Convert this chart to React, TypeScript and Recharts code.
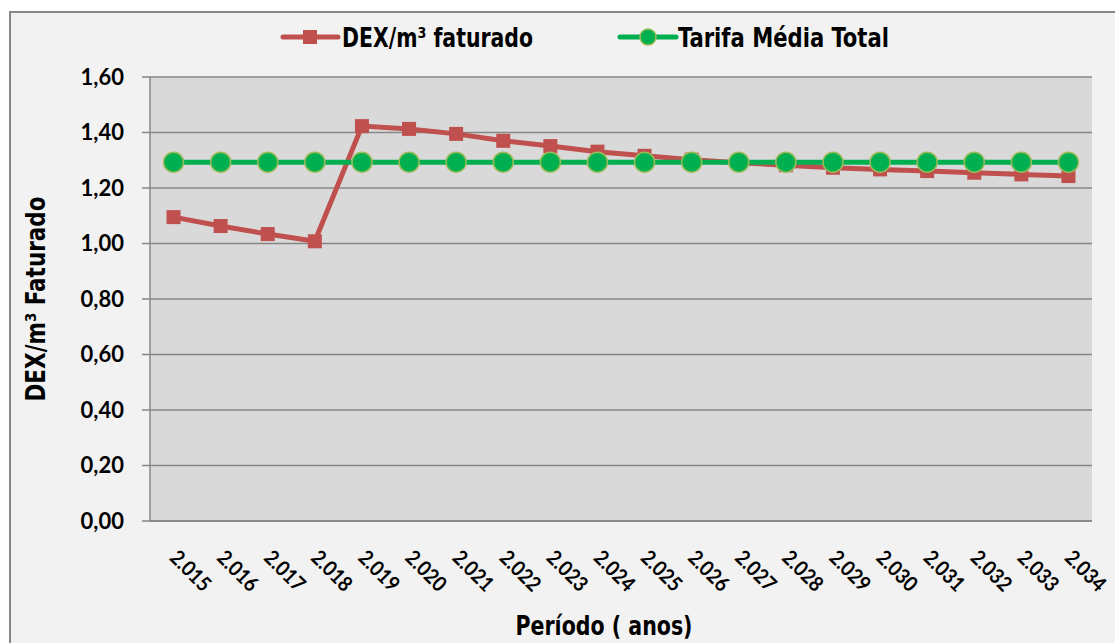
import { LineChart, Line, CartesianGrid, XAxis, YAxis, Legend, Label } from 'recharts';

const years = ['2.015', '2.016', '2.017', '2.018', '2.019', '2.020', '2.021', '2.022', '2.023', '2.024',
  '2.025', '2.026', '2.027', '2.028', '2.029', '2.030', '2.031', '2.032', '2.033', '2.034'];
const dexFaturado = [1.095, 1.063, 1.034, 1.008, 1.423, 1.413, 1.395, 1.37, 1.351, 1.331,
  1.316, 1.302, 1.291, 1.282, 1.273, 1.267, 1.261, 1.255, 1.249, 1.243];
const tarifaMedia = [1.293, 1.293, 1.293, 1.293, 1.293, 1.293, 1.293, 1.293, 1.293, 1.293,
  1.293, 1.293, 1.293, 1.293, 1.293, 1.293, 1.293, 1.293, 1.293, 1.293];
const yTicks = [0, 0.2, 0.4, 0.6, 0.8, 1.0, 1.2, 1.4, 1.6];

const data = years.map((year, i) => ({ x: i + 0.5, year, dex: dexFaturado[i], tarifa: tarifaMedia[i] }));
const centerTicks = data.map(d => d.x);
const edgeTicks = [...years.map((_, i) => i), years.length];

const RED = '#c0504d';
const GREEN = '#00b050';
const AXIS = '#868686';
const NARROW = '"Liberation Sans Narrow", "Arial Narrow", "DejaVu Sans Condensed", sans-serif';
const TICKFONT = 'Lato, "Liberation Sans", sans-serif';

const SquareDot = (props: any) => {
  const { cx, cy } = props;
  if (cx == null || cy == null) return null;
  return <rect x={cx - 7} y={cy - 7} width={14} height={14} fill={RED} />;
};

const YearTick = (props: any) => {
  const { x, y, payload } = props;
  const label = years[Math.floor(payload.value)];
  const tx = x - 5;
  const ty = y + 30;
  return (
    <text x={tx} y={ty} transform={`rotate(45, ${tx}, ${ty})`} textAnchor="start" textLength={48} lengthAdjust="spacingAndGlyphs"
      fontFamily={TICKFONT} fontWeight={700} fontSize={21} fill="#000">{label}</text>
  );
};

const titleStyle = { fontFamily: NARROW, fontWeight: 700, fontSize: 27, fill: '#000' };

const LegendContent = () => (
  <svg width={1110} height={50} style={{ display: 'block' }}>
    <line x1={272} y1={24} x2={327} y2={24} stroke={RED} strokeWidth={5} strokeLinecap="round" />
    <rect x={292} y={17} width={14} height={14} fill={RED} />
    <text x={331} y={34} textLength={191} lengthAdjust="spacingAndGlyphs" {...titleStyle}>DEX/m³ faturado</text>
    <line x1={609} y1={24} x2={665} y2={24} stroke={GREEN} strokeWidth={5} strokeLinecap="round" />
    <circle cx={637} cy={24} r={8} fill={GREEN} stroke="#9bbb59" strokeWidth={1.5} />
    <text x={667} y={34} textLength={211} lengthAdjust="spacingAndGlyphs" {...titleStyle}>Tarifa Média Total</text>
  </svg>
);

export default function App() {
  return (
    <div>
      <style>{'body{margin:0;overflow:hidden}'}</style>
      <div style={{ marginLeft: 9, marginTop: 11, width: 1110, height: 632, border: `2px solid ${AXIS}`, background: '#f2f2f2' }}>
        <LineChart width={1110} height={632} data={data} margin={{ top: 64, right: 29, left: 0, bottom: 0 }}>
          <CartesianGrid xAxisId="lab" vertical={false} fill="#d9d9d9" stroke={AXIS} strokeWidth={1.5} />
          <XAxis xAxisId="tk" type="number" dataKey="x" domain={[0, 20]} ticks={edgeTicks} height={0}
            axisLine={false} tickLine={{ stroke: AXIS, strokeWidth: 1.5 }} tickSize={8} tick={() => <g />} />
          <XAxis xAxisId="lab" type="number" dataKey="x" domain={[0, 20]} ticks={centerTicks} height={124}
            axisLine={{ stroke: AXIS, strokeWidth: 1.5 }} tickLine={false} tick={<YearTick />} interval={0}>
            <Label content={(p: any) => {
              const vb = p.viewBox;
              return <text x={vb.x + vb.width / 2 - 17} y={vb.y + 114} textAnchor="middle"
                textLength={177} lengthAdjust="spacingAndGlyphs" {...titleStyle}>Período ( anos)</text>;
            }} />
          </XAxis>
          <YAxis type="number" domain={[0, 1.6]} ticks={yTicks} width={139} interval={0}
            axisLine={{ stroke: AXIS, strokeWidth: 1.5 }} tickLine={{ stroke: AXIS, strokeWidth: 1.5 }}
            tickSize={8} tickMargin={18} tickFormatter={(v: number) => v.toFixed(2).replace('.', ',')}
            tick={{ fill: '#000', fontFamily: TICKFONT, fontWeight: 700, fontSize: 22 }}>
            <Label content={(p: any) => {
              const vb = p.viewBox;
              const cx = vb.x + 24;
              const cy = vb.y + vb.height / 2;
              return <text x={cx} y={cy} transform={`rotate(-90, ${cx}, ${cy})`} textAnchor="middle" dominantBaseline="central"
                textLength={205} lengthAdjust="spacingAndGlyphs" {...titleStyle}>DEX/m³ Faturado</text>;
            }} />
          </YAxis>
          <Legend verticalAlign="middle" align="center" layout="horizontal" content={<LegendContent />}
            wrapperStyle={{ top: 0, left: 0, width: 1110 }} />
          <Line xAxisId="lab" type="linear" dataKey="dex" name="DEX/m³ faturado" stroke={RED} strokeWidth={5}
            dot={<SquareDot />} activeDot={false} isAnimationActive={false} />
          <Line xAxisId="lab" type="linear" dataKey="tarifa" name="Tarifa Média Total" stroke={GREEN} strokeWidth={5}
            dot={{ r: 10, fill: GREEN, stroke: '#9bbb59', strokeWidth: 1.5 }} activeDot={false} isAnimationActive={false} />
        </LineChart>
      </div>
    </div>
  );
}
